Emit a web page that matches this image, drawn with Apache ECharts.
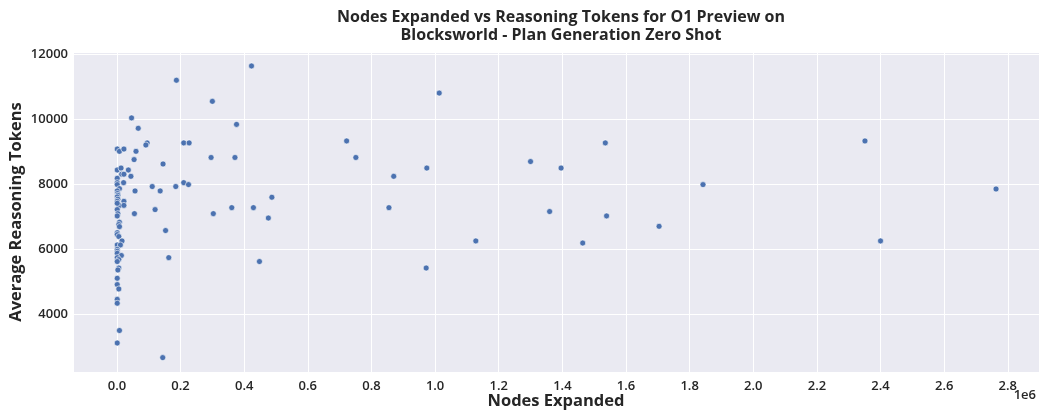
<!DOCTYPE html>
<html>
<head>
<meta charset="utf-8">
<script src="https://cdn.jsdelivr.net/npm/echarts@6/dist/echarts.min.js"></script>
<style>
html,body{margin:0;padding:0;background:#fff;}
#chart{width:1040px;height:411px;}
</style>
</head>
<body>
<div id="chart"></div>
<script>
const titleLines = ["Nodes Expanded vs Reasoning Tokens for O1 Preview on", "Blocksworld - Plan Generation Zero Shot"];
const xLabel = "Nodes Expanded";
const yLabel = "Average Reasoning Tokens";
const xScaleLabel = "1e6";

const nodesExpanded = [
  187000, 300000, 423000, 46000, 67000, 376000, 95000, 91000, 210000, 227000,
  1000, 8000, 22000, 60000, 54000, 296000, 371000, 145000, 1000, 13000,
  36000, 15000, 22000, 44000, 1000, 1000, 21000, 1000, 8000, 111000,
  185000, 210000, 225000, 57000, 136000, 1000, 2000, 3000, 1000, 3000,
  1000, 22000, 8000, 22000, 1000, 361000, 1000, 120000, 3000, 55000,
  303000, 1000, 8000, 6000, 8000, 153000, 1000, 1000, 6000, 16000,
  1000, 11000, 1000, 1000, 1000, 14000, 163000, 1000, 6000, 1000,
  6000, 3000, 1000, 1000, 6000, 1000, 1000, 8000, 1000, 144000,
  1013000, 722000, 751000, 870000, 974000, 429000, 487000, 476000, 855000, 448000,
  972000, 1128000, 1300000, 1396000, 1535000, 1360000, 1539000, 1464000, 1704000, 1842000,
  2351000, 2400000, 2763000
];
const reasoningTokens = [
  11210, 10560, 11650, 10050, 9730, 9850, 9280, 9215, 9280, 9280,
  9090, 9020, 9090, 9020, 8765, 8830, 8830, 8630, 8445, 8505,
  8445, 8315, 8315, 8250, 8190, 8055, 8055, 7995, 7870, 7935,
  7935, 8055, 7995, 7800, 7800, 7800, 7720, 7665, 7615, 7545,
  7480, 7480, 7355, 7355, 7420, 7285, 7225, 7225, 7100, 7100,
  7100, 7030, 6835, 6765, 6700, 6580, 6515, 6455, 6395, 6260,
  6135, 6135, 6000, 5940, 5880, 5810, 5745, 5745, 5685, 5625,
  5425, 5365, 5110, 4915, 4780, 4460, 4340, 3500, 3115, 2665,
  10815, 9340, 8830, 8250, 8505, 7285, 7605, 6965, 7285, 5625,
  5425, 6260, 8705, 8505, 9280, 7165, 7030, 6195, 6710, 7995,
  9340, 6260, 7860
];

const points = nodesExpanded.map((x, i) => [x, reasoningTokens[i]]);
const FONT = "'Open Sans', 'DejaVu Sans', sans-serif";
const nameStyle = {fontFamily: FONT, fontSize: 16.5, fontWeight: 'bold', fill: '#262626', align: 'center', verticalAlign: 'middle'};

const chart = echarts.init(document.getElementById('chart'), null, {renderer: 'canvas'});
chart.setOption({
  animation: false,
  backgroundColor: '#ffffff',
  title: {
    text: titleLines.join('\n'),
    left: 556,
    top: 3,
    textAlign: 'center',
    textStyle: {fontFamily: FONT, fontSize: 16, fontWeight: 'bold', color: '#262626', lineHeight: 18}
  },
  grid: {left: 73, right: 1, top: 52, bottom: 39, show: true, backgroundColor: '#eaeaf2', borderWidth: 0, outerBoundsMode: 'none', containLabel: false},
  xAxis: {
    type: 'value',
    min: -138000,
    max: 2898000,
    minInterval: 200000,
    maxInterval: 200000,
    splitNumber: 15,
    axisLine: {show: false},
    axisTick: {show: false},
    axisLabel: {
      fontFamily: FONT, fontSize: 13, fontWeight: 600, color: '#262626', margin: 8,
      formatter: v => (Math.abs(v / 200000 - Math.round(v / 200000)) < 1e-6) ? (v / 1e6).toFixed(1) : ''
    },
    splitLine: {show: true, lineStyle: {color: '#ffffff', width: 1}}
  },
  yAxis: {
    type: 'value',
    min: 2222,
    max: 12080,
    minInterval: 2000,
    maxInterval: 2000,
    splitNumber: 5,
    axisLine: {show: false},
    axisTick: {show: false},
    axisLabel: {
      fontFamily: FONT, fontSize: 13, fontWeight: 600, color: '#262626', margin: 5,
      formatter: v => (v % 2000 === 0) ? String(v) : ''
    },
    splitLine: {show: true, lineStyle: {color: '#ffffff', width: 1}}
  },
  graphic: [
    {type: 'text', x: 556, y: 401, style: Object.assign({text: xLabel}, nameStyle)},
    {type: 'text', x: 16, y: 212, rotation: Math.PI / 2, style: Object.assign({text: yLabel}, nameStyle)},
    {type: 'text', right: 4, top: 389,
     style: {text: xScaleLabel, fontFamily: FONT, fontSize: 13, fontWeight: 600, fill: '#262626'}}
  ],
  series: [{
    type: 'scatter',
    data: points,
    symbol: 'circle',
    symbolSize: 6,
    itemStyle: {color: '#4c72b0', borderColor: '#ffffff', borderWidth: 0.6, opacity: 1}
  }]
});
</script>
</body>
</html>
